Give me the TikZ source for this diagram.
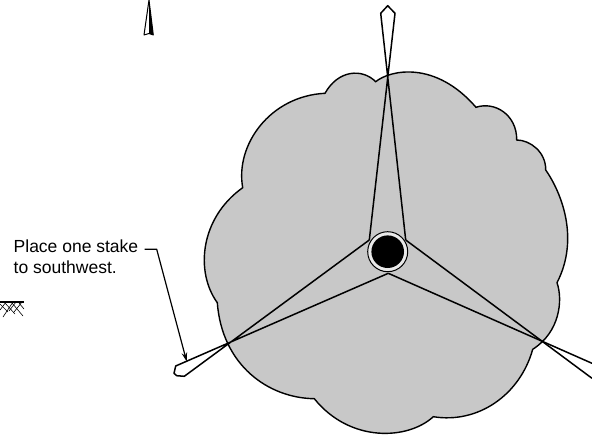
\documentclass[tikz,border=0pt]{standalone}
\usepackage{fontspec}
\setmainfont{Liberation Sans}
\usetikzlibrary{arrows.meta}
\definecolor{cloudgray}{RGB}{200,200,200}
\tikzset{
  outline/.style={draw=black,line width=1.4bp,line join=miter},
  rope/.style={draw=black,line width=1.5bp,line join=round},
  leader/.style={draw=black,line width=1.2bp,-{Stealth[length=9bp,width=5.5bp]}},
  label/.style={font=\fontsize{17.5bp}{21bp}\selectfont,align=left,anchor=north west,inner sep=0pt},
  hatch/.style={draw=black,line width=0.6bp}
}
\begin{document}
\begin{tikzpicture}[x=1bp,y=-1bp]
\useasboundingbox (0,0) rectangle (592,435);
\clip (0,0) rectangle (592,435);
% canopy
\path[fill=cloudgray,outline]
 (375.7,81.7) .. controls (390,70) and (435,60) .. (476,107.3)
 .. controls (495,101) and (517,115) .. (516.7,140)
 .. controls (530,140) and (546,152) .. (545.7,170)
 .. controls (561,192) and (580,238) .. (557,282.7)
 .. controls (563,300) and (560,332) .. (532.7,349.3)
 .. controls (520,395) and (478,424) .. (433.3,416.7)
 .. controls (408,440) and (350,443) .. (314.3,398.7)
 .. controls (268,398) and (222,365) .. (217.3,302.7)
 .. controls (195,272) and (200,218) .. (242.7,187.7)
 .. controls (235,145) and (270,96) .. (325,93.3)
 .. controls (338,70) and (362,68) .. (375.7,81.7) -- cycle;
% coordinates
\coordinate (hub) at (387.7,251.7);
\coordinate (bot) at (388.3,273.3);
\coordinate (nl) at (380.7,13.3);
\coordinate (nt) at (387.7,5.7);
\coordinate (nr) at (395,13.3);
\coordinate (tr) at (405.7,240);
\coordinate (tl) at (369.3,240);
\coordinate (sa) at (175.7,366);
\coordinate (sb) at (174,373.3);
\coordinate (sc) at (176.7,375.7);
\coordinate (sd) at (184.3,376.3);
\coordinate (ea) at (592,363.3);
\coordinate (eb) at (592,378.3);
% ropes
\draw[rope] (tl) -- (nr) -- (nt) -- (nl) -- (tr);
\draw[rope] (bot) -- (sa) -- (sb) -- (sc) -- (sd) -- (tl);
\draw[rope] (bot) -- (ea);
\draw[rope] (tr) -- (eb);
% pole
\node[circle,draw=black,line width=1bp,fill=cloudgray!40,minimum size=40bp,inner sep=0pt] (ring) at (hub) {};
\node[circle,fill=black,minimum size=32.6bp,inner sep=0pt] (pole) at (hub) {};
% text and leader
\node[label] (note) at (13.5,240) {Place one stake\\to southwest.};
\coordinate (l1) at (144.7,249.3);
\coordinate (l2) at (156.7,249.3);
\coordinate (l3) at (186.7,361.5);
\draw[leader] (l1) -- (l2) -- (l3);
% north arrow
\coordinate (ap) at (149,0);
\coordinate (bl) at (144,35);
\coordinate (bm) at (149,33.5);
\coordinate (br) at (153.3,35);
\fill[black] (ap) -- (br) -- (bm) -- cycle;
\draw[black,line width=1bp,line join=round] (ap) -- (bl) -- (bm) -- (br) -- cycle;
% ground
\draw[black,line width=1.8bp] (0,301.7) -- (24,301.7);
\draw[hatch] (0,310) -- (6,302) (3,317) -- (13,302) (9,311) -- (16,302) (14,312) -- (22,302);
\draw[hatch] (0,304) -- (8,312) (5,303) -- (15,314) (12,303) -- (23,316) (19,303) -- (24,309);
\end{tikzpicture}
\end{document}
